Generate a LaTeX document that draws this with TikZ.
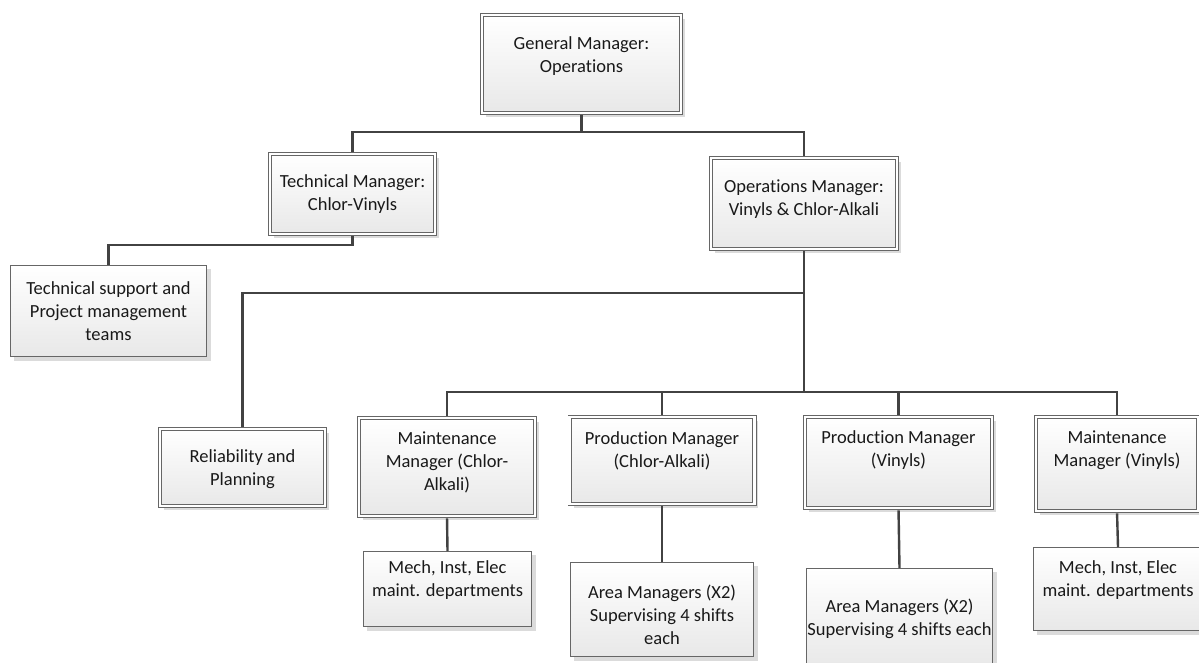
\documentclass[tikz,border=0pt]{standalone}
\usepackage{fontspec}
\setmainfont{Carlito}[Ligatures=NoCommon, RawFeature=-calt]
\usetikzlibrary{shadows,shadings}

\tikzset{
  box/.style={rectangle, inner sep=0pt, top color=white, bottom color=black!9,
    drop shadow={shadow xshift=4pt, shadow yshift=-4pt, fill=black!14, opacity=1}},
  teambox/.style={box, draw=black!60, line width=0.8pt},
  mgrbox/.style={box, draw=black!60, line width=0.8pt, double=white, double distance=2.6pt},
  wire/.style={draw=black!74, line width=2.4pt},
  txt/.style={align=center, text=black!90, inner sep=0pt,
    font=\fontsize{18.5}{23}\selectfont},
}

\begin{document}
\begin{tikzpicture}[x=1pt, y=-1pt]
\useasboundingbox (0,0) rectangle (1199,662);

% manager boxes (double border): width/height reduced by the border offset
\node[mgrbox, minimum width=198.8pt, minimum height=97.8pt] (gm)  at (581.5,64) {};
\node[mgrbox, minimum width=164.8pt, minimum height=79.8pt] (tm)  at (352.5,194) {};
\node[mgrbox, minimum width=185.8pt, minimum height=90.8pt] (om)  at (804,203.5) {};
\node[mgrbox, minimum width=164.8pt, minimum height=76.8pt] (rp)  at (242.5,467.5) {};
\node[mgrbox, minimum width=175.8pt, minimum height=97.8pt] (mca) at (447,467) {};
\node[mgrbox, minimum width=184.8pt, minimum height=86.8pt] (pca) at (662,460.5) {};
\node[mgrbox, minimum width=186.8pt, minimum height=90.8pt] (pv)  at (898.5,462.5) {};
\node[mgrbox, minimum width=161.8pt, minimum height=93.8pt] (mv)  at (1117,464) {};

% team boxes (single border)
\node[teambox, minimum width=196.2pt, minimum height=91.2pt] (ts)    at (108.5,311) {};
\node[teambox, minimum width=168.2pt, minimum height=75.2pt] (mech1) at (447.5,589) {};
\node[teambox, minimum width=183.2pt, minimum height=94.2pt] (area1) at (662,609.5) {};
\node[teambox, minimum width=186.2pt, minimum height=99.2pt] (area2) at (899.5,618) {};
\node[teambox, minimum width=169.2pt, minimum height=83.2pt] (mech2) at (1118,589) {};

% texts
\node[txt] (gm-t)    at (581.5,56)  {General Manager:\\Operations};
\node[txt] (tm-t)    at (352.5,194) {Technical Manager:\\Chlor-Vinyls};
\node[txt] (om-t)    at (804,199.5) {Operations Manager:\\Vinyls \& Chlor-Alkali};
\node[txt] (rp-t)    at (242.5,469) {Reliability and\\Planning};
\node[txt] (mca-t)   at (447,462)   {Maintenance\\Manager (Chlor-\\Alkali)};
\node[txt] (pca-t)   at (662,450.5) {Production Manager\\(Chlor-Alkali)};
\node[txt] (pv-t)    at (898.5,450.5) {Production Manager\\(Vinyls)};
\node[txt] (mv-t)    at (1117,450.5) {Maintenance\\Manager (Vinyls)};
\node[txt] (ts-t)    at (108.5,311) {Technical support and\\Project management\\teams};
\node[txt] (mech1-t) at (447.5,580) {Mech, Inst, Elec\\maint. departments};
\node[txt] (area1-t) at (662,615)   {Area Managers (X2)\\Supervising 4 shifts\\each};
\node[txt] (area2-t) at (899.5,618.5) {Area Managers (X2)\\Supervising 4 shifts each};
\node[txt] (mech2-t) at (1118,580)  {Mech, Inst, Elec\\maint. departments};

% bus points
\coordinate (busA) at (581.5,132);
\coordinate (tmdrop) at (352.5,245);
\coordinate (busB) at (804,293);
\coordinate (busC) at (804,392);

% connectors
\draw[wire, shorten <=2pt] (gm.south) -- (busA);
\draw[wire, shorten <=2pt, shorten >=2pt] (tm.north) |- (busA) -| (om.north);
\draw[wire, shorten <=2pt] (tm.south) -- (tmdrop) -| (ts.north);
\draw[wire, shorten <=2pt] (om.south) -- (busC);
\draw[wire, shorten >=2pt] (busB) -| (rp.north);
\draw[wire, shorten <=2pt, shorten >=2pt] (mca.north) |- (busC) -| (mv.north);
\draw[wire, shorten <=2pt] (pca.north) -- (pca.north |- busC);
\draw[wire, shorten <=2pt] (pv.north) -- (pv.north |- busC);
\draw[wire, shorten <=2pt] (mca.south) -- (mech1.north);
\draw[wire, shorten <=2pt] (pca.south) -- (area1.north);
\draw[wire, shorten <=2pt] (pv.south) -- (area2.north);
\draw[wire, shorten <=2pt] (mv.south) -- (mech2.north);
\end{tikzpicture}
\end{document}
